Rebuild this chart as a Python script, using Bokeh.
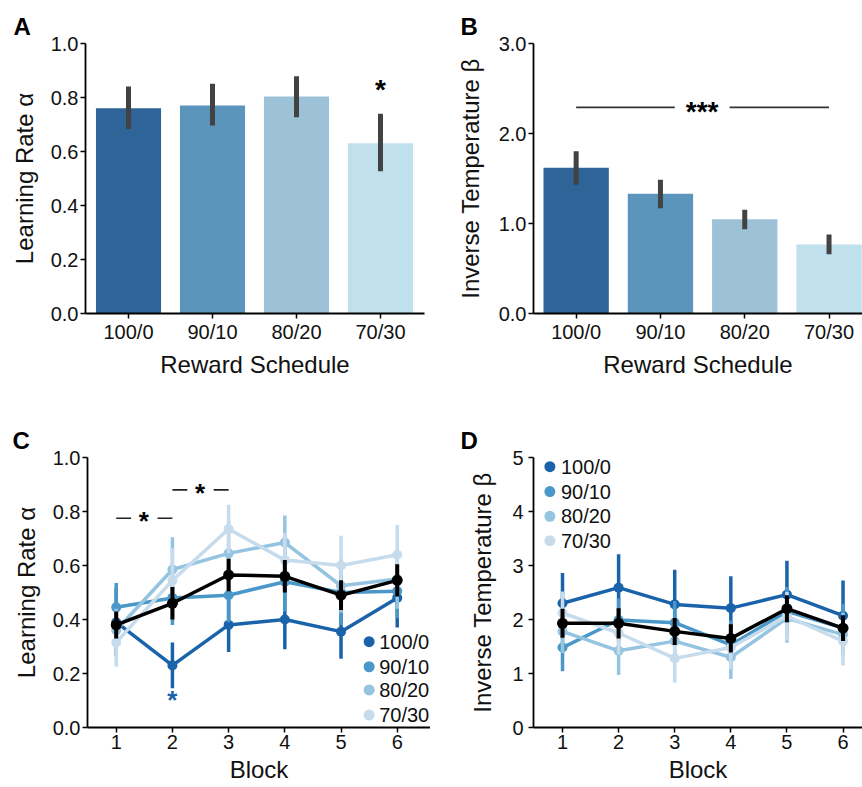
from bokeh.plotting import figure
from bokeh.layouts import column, row
from bokeh.models import FixedTicker, Label, Range1d, NumeralTickFormatter
from bokeh.embed import file_html
from bokeh.resources import INLINE

FONT = "Liberation Sans"

# ---------------- data ----------------
schedules = ["100/0", "90/10", "80/20", "70/30"]

# Panel A: learning rate by schedule
alpha_mean = [0.760, 0.770, 0.804, 0.631]
alpha_lo = [0.683, 0.696, 0.727, 0.527]
alpha_hi = [0.841, 0.851, 0.879, 0.740]

# Panel B: inverse temperature by schedule
beta_mean = [1.619, 1.330, 1.048, 0.767]
beta_lo = [1.430, 1.170, 0.937, 0.659]
beta_hi = [1.804, 1.485, 1.152, 0.878]

blocks = [1, 2, 3, 4, 5, 6]

# Panel C: learning rate by block
c_100 = [0.39, 0.23, 0.38, 0.40, 0.355, 0.48]
c_100_err = [0.125, 0.085, 0.10, 0.11, 0.10, 0.11]
c_90 = [0.445, 0.48, 0.49, 0.54, 0.50, 0.505]
c_90_err = [0.09, 0.10, 0.10, 0.11, 0.12, 0.10]
c_80 = [0.36, 0.585, 0.645, 0.685, 0.525, 0.55]
c_80_err = [0.08, 0.12, 0.12, 0.10, 0.10, 0.11]
c_70 = [0.315, 0.545, 0.735, 0.62, 0.60, 0.64]
c_70_err = [0.09, 0.12, 0.09, 0.10, 0.11, 0.11]
c_all = [0.38, 0.46, 0.565, 0.56, 0.49, 0.545]
c_all_err = [0.05, 0.06, 0.06, 0.06, 0.055, 0.06]

# Panel D: inverse temperature by block
d_100 = [2.30, 2.59, 2.28, 2.21, 2.46, 2.07]
d_100_err = [0.56, 0.62, 0.64, 0.59, 0.63, 0.65]
d_90 = [1.48, 1.99, 1.94, 1.53, 2.15, 1.84]
d_90_err = [0.44, 0.40, 0.40, 0.45, 0.45, 0.45]
d_80 = [1.78, 1.42, 1.60, 1.30, 2.02, 1.72]
d_80_err = [0.40, 0.45, 0.40, 0.40, 0.45, 0.40]
d_70 = [2.12, 1.75, 1.28, 1.48, 2.06, 1.60]
d_70_err = [0.40, 0.40, 0.45, 0.40, 0.45, 0.45]
d_all = [1.93, 1.93, 1.78, 1.65, 2.20, 1.84]
d_all_err = [0.27, 0.28, 0.25, 0.26, 0.25, 0.24]

# significance annotations
a_star_x, a_star_y = [3], [0.837]
b_sig_y = 2.29
b_sig_x = [0, 3]
c_sig_y = [0.775, 0.880]
c_sig_x = [[1, 2], [2, 3]]
c_blue_star = (2, 0.105)

BAR_COLORS = ["#2e6497", "#5b95bb", "#9dc1d6", "#bfe0ec"]
LINE_COLORS = ["#1a63ab", "#4a98c9", "#94c4df", "#c6dcec"]


def make_fig(width, height, xr, yr, ml, mr, mt, mb, letter, letter_offset):
    p = figure(width=width, height=height, x_range=Range1d(*xr), y_range=Range1d(*yr),
               output_backend="svg", toolbar_location=None,
               min_border_left=ml, min_border_right=mr, min_border_top=mt, min_border_bottom=mb)
    p.outline_line_color = None
    p.xgrid.visible = False
    p.ygrid.visible = False
    p.background_fill_color = "white"
    p.border_fill_color = "white"
    p.title.text = letter
    p.title.text_font = FONT
    p.title.text_font_size = "24px"
    p.title.text_font_style = "bold"
    p.title.text_color = "black"
    p.title.align = "left"
    p.title.offset = letter_offset
    p.title.standoff = 8
    for ax in p.axis:
        ax.axis_line_width = 1.8
        ax.axis_line_color = "black"
        ax.major_tick_line_width = 1.5
        ax.major_tick_line_color = "black"
        ax.major_tick_out = 5
        ax.major_tick_in = 0
        ax.minor_tick_line_color = None
        ax.major_label_text_font = FONT
        ax.major_label_text_font_size = "20px"
        ax.major_label_text_color = "#111111"
        ax.axis_label_text_font = FONT
        ax.axis_label_text_font_size = "24px"
        ax.axis_label_text_font_style = "normal"
        ax.axis_label_text_color = "#111111"
    return p


def star(p, x, y, t, size="28px", color="black", dy=-2):
    p.add_layout(Label(x=x, y=y, text=t, text_font=FONT, text_font_size=size,
                       text_font_style="bold", text_align="center", text_baseline="middle",
                       text_color=color, y_offset=dy))


def bar_panel(means, lo, hi, width, xr, yr, ml, mr, ticks, ylabel, letter, loff):
    p = make_fig(width, 400, xr, yr, ml, mr, 43, 87, letter, loff)
    xs = list(range(len(schedules)))
    p.vbar(x=xs, top=means, width=0.775, fill_color=BAR_COLORS, line_color=None)
    p.segment(x0=xs, y0=lo, x1=xs, y1=hi, line_color="#424242", line_width=5)
    p.xaxis.ticker = FixedTicker(ticks=xs)
    p.xaxis.major_label_overrides = {i: s for i, s in enumerate(schedules)}
    p.xaxis.major_label_standoff = 2
    p.xaxis.axis_label = "Reward Schedule"
    p.xaxis.axis_label_standoff = 5
    p.yaxis.ticker = FixedTicker(ticks=ticks)
    p.yaxis.formatter = NumeralTickFormatter(format="0.0")
    p.yaxis.major_label_standoff = 2
    p.yaxis.axis_label = ylabel
    return p


# ---------------- Panel A ----------------
pA = bar_panel(alpha_mean, alpha_lo, alpha_hi, 430, (-0.512, 3.524), (0, 1.0), 85, 6,
               [0.0, 0.2, 0.4, 0.6, 0.8, 1.0], "Learning Rate α", "A", -72)
pA.yaxis.axis_label_standoff = 10
star(pA, a_star_x[0], a_star_y[0], "*", dy=-2)

# ---------------- Panel B ----------------
pB = bar_panel(beta_mean, beta_lo, beta_hi, 432, (-0.506, 3.397), (0, 3.0), 103, 0,
               [0.0, 1.0, 2.0, 3.0], "Inverse Temperature β", "B", -73)
pB.yaxis.axis_label_standoff = 12
pB.segment(x0=[b_sig_x[0], 1.82], y0=[b_sig_y, b_sig_y], x1=[1.17, b_sig_x[1]], y1=[b_sig_y, b_sig_y],
           line_color="#333333", line_width=1.6)
star(pB, 1.495, b_sig_y, "***", dy=-4)


# ---------------- line panels ----------------
def line_panel(series, errs, mean, mean_err, width, xr, yr, ml, mr, ticks, ylabel, fmt, letter, loff):
    p = make_fig(width, 387, xr, yr, ml, mr, 57, 60, letter, loff)
    for vals, err, col in zip(series, errs, LINE_COLORS):
        lo = [v - e for v, e in zip(vals, err)]
        hi = [v + e for v, e in zip(vals, err)]
        p.segment(x0=blocks, y0=lo, x1=blocks, y1=hi, line_color=col, line_width=3.5)
        p.line(blocks, vals, line_color=col, line_width=3.5, line_join="round")
        p.scatter(blocks, vals, size=10, fill_color=col, line_color=None)
    lo = [v - e for v, e in zip(mean, mean_err)]
    hi = [v + e for v, e in zip(mean, mean_err)]
    p.segment(x0=blocks, y0=lo, x1=blocks, y1=hi, line_color="black", line_width=4)
    p.line(blocks, mean, line_color="black", line_width=3.5, line_join="round")
    p.scatter(blocks, mean, size=11, fill_color="black", line_color=None)
    p.xaxis.ticker = FixedTicker(ticks=blocks)
    p.xaxis.major_label_standoff = 2
    p.xaxis.axis_label = "Block"
    p.xaxis.axis_label_standoff = 4
    p.yaxis.ticker = FixedTicker(ticks=ticks)
    if fmt:
        p.yaxis.formatter = NumeralTickFormatter(format=fmt)
    p.yaxis.major_label_standoff = 2
    p.yaxis.axis_label = ylabel
    return p


def legend(p, x_dot, x_txt, ys):
    p.scatter([x_dot] * len(ys), ys, size=11, fill_color=LINE_COLORS, line_color=None)
    for y, s in zip(ys, schedules):
        p.add_layout(Label(x=x_txt, y=y, text=s, text_font=FONT, text_font_size="20px",
                           text_align="left", text_baseline="middle", text_color="#111111"))


# ---------------- Panel C ----------------
pC = line_panel([c_100, c_90, c_80, c_70], [c_100_err, c_90_err, c_80_err, c_70_err],
                c_all, c_all_err, 430, (0.489, 6.592), (0, 1.0), 87, 0,
                [0.0, 0.2, 0.4, 0.6, 0.8, 1.0], "Learning Rate α", "0.0", "C", -75)
pC.yaxis.axis_label_standoff = 10
legend(pC, 5.50, 5.678, [0.318, 0.225, 0.139, 0.046])
for (xa, xb), y in zip(c_sig_x, c_sig_y):
    pC.segment(x0=[xa, xa + 0.734], y0=[y, y], x1=[xa + 0.265, xb], y1=[y, y],
               line_color="#222222", line_width=1.6)
    star(pC, (xa + xb) / 2 - 0.01, y, "*", size="26px", dy=-3)
star(pC, c_blue_star[0], c_blue_star[1], "*", size="26px", color=LINE_COLORS[0], dy=-1)

# ---------------- Panel D ----------------
pD = line_panel([d_100, d_90, d_80, d_70], [d_100_err, d_90_err, d_80_err, d_70_err],
                d_all, d_all_err, 432, (0.483, 6.347), (0, 5), 103, 0,
                [0, 1, 2, 3, 4, 5], "Inverse Temperature β", None, "D", -73)
pD.yaxis.major_label_standoff = 5
pD.yaxis.axis_label_standoff = 13
legend(pD, 0.775, 0.971, [4.83, 4.37, 3.91, 3.46])

layout = column(row(pA, pB), row(pC, pD))

with open("out.html", "w") as f:
    f.write(file_html(layout, INLINE))
